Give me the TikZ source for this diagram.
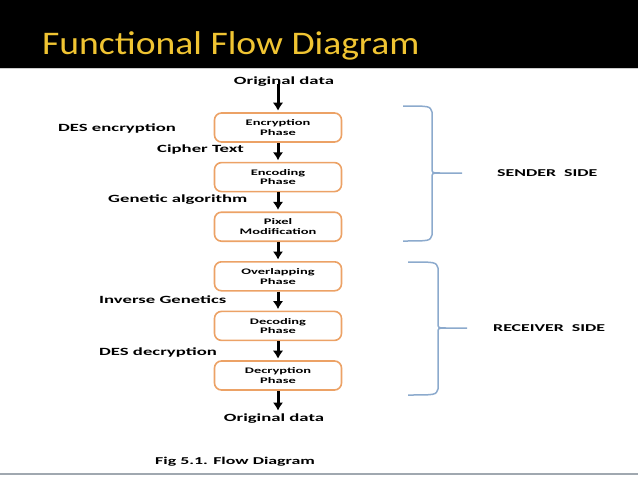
\documentclass[tikz,border=0pt]{standalone}
\usepackage{fontspec}
\newfontfamily\titlefont[FakeStretch=1.14]{Carlito}
\newfontfamily\labelfont[FakeStretch=1.7]{Carlito}
\usepackage{tikz}
\usetikzlibrary{arrows.meta}
\usetikzlibrary{positioning}
\usetikzlibrary{calc}
\definecolor{boxorange}{RGB}{236,162,102}
\definecolor{bracegray}{RGB}{140,170,205}
\definecolor{titleyellow}{RGB}{240,196,50}
\definecolor{rulegray}{RGB}{160,168,176}
\tikzstyle{phase}=[rectangle, rounded corners=7pt, draw=boxorange, line width=1.6pt, fill=white, minimum width=127pt, minimum height=29pt, inner sep=1pt, align=center, font=\labelfont\bfseries\fontsize{8.5}{9.5}\selectfont]
\tikzstyle{lbl}=[inner sep=0pt, anchor=west, font=\labelfont\bfseries\fontsize{11}{12}\selectfont]
\tikzstyle{side}=[inner sep=0pt, anchor=west, font=\labelfont\bfseries\fontsize{10.5}{12}\selectfont]
\tikzstyle{brace}=[draw=bracegray, line width=1.5pt]

\begin{document}
\begin{tikzpicture}[x=1pt, y=-1pt, >={Latex[length=8pt,width=10.5pt]}, node distance=19pt]
	\useasboundingbox (0,0) rectangle (638,479);
	\fill[black] (0,0) rectangle (638,68);
	\draw[gray!40, line width=1pt] (0,68.5) -- (638,68.5);
	\draw[rulegray, line width=2pt] (0,474) -- (638,474);
	\node (title) at (42,54) [anchor=base west, inner sep=0pt, text=titleyellow, font=\titlefont\fontsize{33}{36}\selectfont] {Functional Flow Diagram};

	\node (enc) at (278,127.5) [phase] {Encryption\\Phase};
	\node (cod) [phase, below=of enc] {Encoding\\Phase};
	\node (pix) [phase, below=of cod] {Pixel\\Modification};
	\node (ovl) [phase, below=of pix] {Overlapping\\Phase};
	\node (dcd) [phase, below=of ovl] {Decoding\\Phase};
	\node (dcr) [phase, below=of dcd] {Decryption\\Phase};
	\node (src) at (284,82) [inner sep=0pt, font=\labelfont\bfseries\fontsize{11}{12}\selectfont] {Original data};
	\node (dst) at (274,419) [inner sep=0pt, font=\labelfont\bfseries\fontsize{11}{12}\selectfont] {Original data};

	\node (desenc) at (58,128) [lbl] {DES encryption};
	\node (cipher) at (157,150) [lbl] {Cipher Text};
	\node (genalg) at (108,200) [lbl] {Genetic algorithm};
	\node (invgen) at (99,300) [lbl] {Inverse Genetics};
	\node (desdec) at (99,352) [lbl] {DES decryption};

	\coordinate (stip) at (462,173);
	\coordinate (rtip) at (467,328);
	\node (sender) at (497,173) [side] {SENDER\ \ SIDE};
	\node (receiver) at (493,328) [side] {RECEIVER\ \ SIDE};
	\node (caption) at (155,462) [inner sep=0pt, anchor=west, font=\labelfont\bfseries\fontsize{10.5}{12}\selectfont] {Fig 5.1. Flow Diagram};

	\path[->, line width=3pt, black, shorten >= 1.5pt]
		($(src.south -| enc.north)+(0,-3)$) edge (enc.north)
		(enc.south) edge (cod.north)
		(cod.south) edge (pix.north)
		(pix.south) edge (ovl.north)
		(ovl.south) edge (dcd.north)
		(dcd.south) edge (dcr.north)
		(dcr.south) edge ($(dst.north -| dcr.south)+(0,-2)$);

	\draw[brace] (403,106) .. controls (430,106) .. (432,112) -- (432,168) .. controls (432,173) .. (440,173) -- (stip);
	\draw[brace] (440,173) .. controls (432,173) .. (432,178) -- (432,235) .. controls (430,241) .. (403,241);
	\draw[brace] (408,262) .. controls (436,262) .. (438,268) -- (438,323) .. controls (438,328) .. (446,328) -- (rtip);
	\draw[brace] (446,328) .. controls (438,328) .. (438,333) -- (438,389) .. controls (436,395) .. (408,395);
\end{tikzpicture}
\end{document}
